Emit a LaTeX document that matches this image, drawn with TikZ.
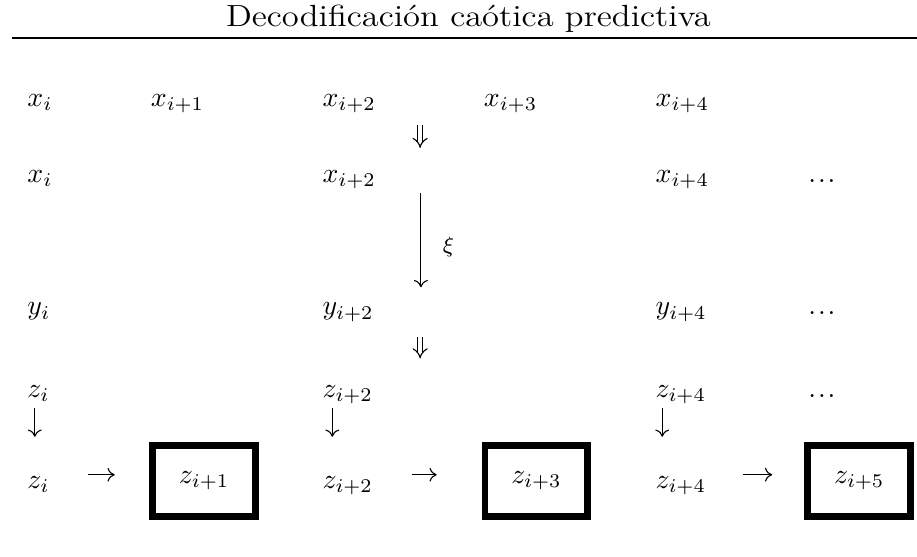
\documentclass[tikz,border=0pt]{standalone}
\usepackage{amsmath,amssymb}
\usetikzlibrary{arrows.meta,positioning}

\begin{document}
\begin{tikzpicture}[every node/.style={font=\normalsize},
  lbl/.style={anchor=base west,inner sep=0pt},
  kbox/.style={draw,line width=2.5pt,minimum width=1.30cm,minimum height=0.90cm,inner sep=0pt},
  arr/.style={-{To[length=2.6pt,width=5pt]},line width=0.4pt},
  darr/.style={double,double distance=1.5pt,line width=0.4pt,-{Implies[length=3pt,width=6pt]}}]
\useasboundingbox (0,0) rectangle (11.59,-7.03);
\node[font=\fontsize{11}{13}\selectfont,anchor=base,xscale=1.13] (title) at (5.92,-0.33) {Decodificación caótica predictiva};
\draw[line width=0.9pt] (0.15,-0.48) -- (11.59,-0.48);
% fila de muestras
\node[lbl] (x0) at (0.34,-1.34) {$x_i$};
\node[lbl] (x1) at (1.90,-1.34) {$x_{i+1}$};
\node[lbl] (x2) at (4.07,-1.34) {$x_{i+2}$};
\node[lbl] (x3) at (6.11,-1.34) {$x_{i+3}$};
\node[lbl] (x4) at (8.28,-1.34) {$x_{i+4}$};
% submuestreo
\node[lbl] (s0) at (0.34,-2.31) {$x_i$};
\node[lbl] (s2) at (4.07,-2.31) {$x_{i+2}$};
\node[lbl] (s4) at (8.28,-2.31) {$x_{i+4}$};
\node[lbl] (sd) at (10.21,-2.31) {.\kern0.7pt.\kern0.7pt.};
\node[lbl] (y0) at (0.34,-3.98) {$y_i$};
\node[lbl] (y2) at (4.07,-3.98) {$y_{i+2}$};
\node[lbl] (y4) at (8.28,-3.98) {$y_{i+4}$};
\node[lbl] (yd) at (10.21,-3.98) {.\kern0.7pt.\kern0.7pt.};
\node[lbl] (z0) at (0.34,-5.02) {$z_i$};
\node[lbl] (z2) at (4.07,-5.02) {$z_{i+2}$};
\node[lbl] (z4) at (8.28,-5.02) {$z_{i+4}$};
\node[lbl] (zd) at (10.21,-5.02) {.\kern0.7pt.\kern0.7pt.};
% prediccion
\node[lbl] (p0) at (0.34,-6.17) {$z_i$};
\node[lbl] (p2) at (4.07,-6.17) {$z_{i+2}$};
\node[lbl] (p4) at (8.28,-6.17) {$z_{i+4}$};
\node[kbox] (b1) at (2.58,-6.08) {$z_{i+1}$};
\node[kbox] (b3) at (6.78,-6.08) {$z_{i+3}$};
\node[kbox] (b5) at (10.86,-6.08) {$z_{i+5}$};
% flechas
\coordinate (d1a) at (5.31,-1.58); \coordinate (d1b) at (5.31,-1.87);
\coordinate (d2a) at (5.31,-4.26); \coordinate (d2b) at (5.31,-4.53);
\coordinate (xia) at (5.32,-2.44); \coordinate (xib) at (5.32,-3.63);
\draw[darr] (d1a) -- (d1b);
\draw[darr] (d2a) -- (d2b);
\draw[arr] (xia) -- node[pos=0.57,right=0.27cm,inner sep=0pt,font=\footnotesize] (xi) {$\xi$} (xib);
\coordinate (v0a) at (0.44,-5.16); \coordinate (v0b) at (0.44,-5.52);
\coordinate (v2a) at (4.20,-5.16); \coordinate (v2b) at (4.20,-5.52);
\coordinate (v4a) at (8.37,-5.16); \coordinate (v4b) at (8.37,-5.52);
\draw[arr] (v0a) -- (v0b); \draw[arr] (v2a) -- (v2b); \draw[arr] (v4a) -- (v4b);
\coordinate (h1a) at (1.11,-6.00); \coordinate (h1b) at (1.45,-6.00);
\coordinate (h3a) at (5.21,-6.00); \coordinate (h3b) at (5.52,-6.00);
\coordinate (h5a) at (9.39,-6.00); \coordinate (h5b) at (9.76,-6.00);
\draw[arr] (h1a) -- (h1b); \draw[arr] (h3a) -- (h3b); \draw[arr] (h5a) -- (h5b);
\end{tikzpicture}
\end{document}
